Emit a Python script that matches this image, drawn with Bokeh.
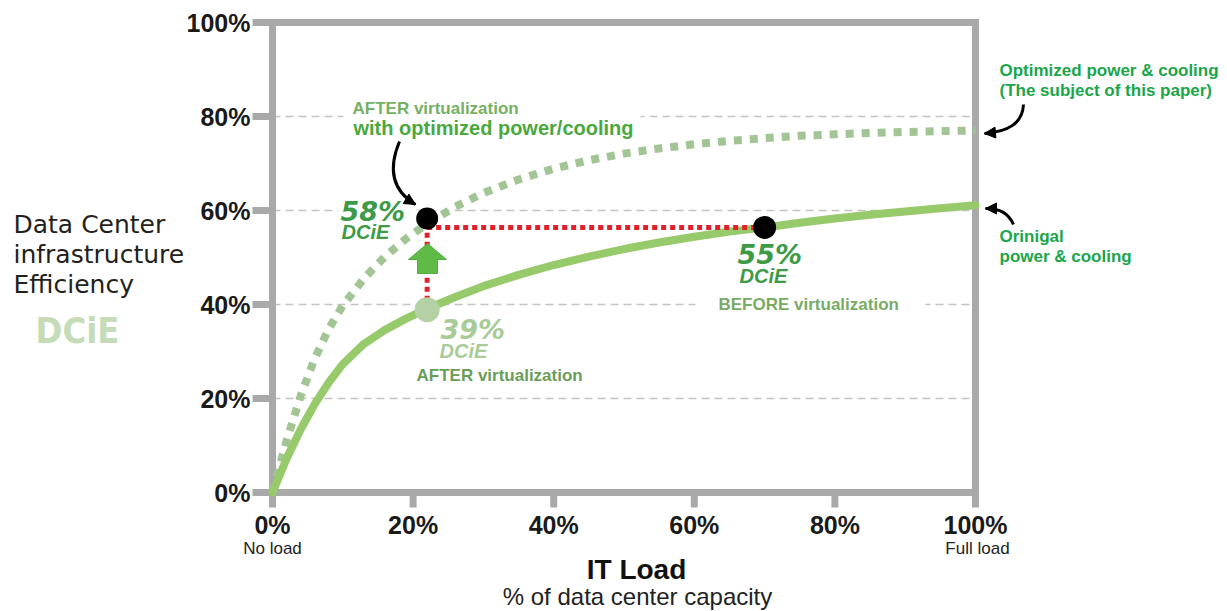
from bokeh.plotting import figure
from bokeh.models import Range1d, Label, Arrow, NormalHead
from bokeh.core.properties import value
from bokeh.embed import file_html
from bokeh.resources import INLINE

# ---------------- data ----------------
x_ticks = [0, 20, 40, 60, 80, 100]
x_tick_labels = ["0%", "20%", "40%", "60%", "80%", "100%"]
y_ticks = [0, 20, 40, 60, 80, 100]
y_tick_labels = ["0%", "20%", "40%", "60%", "80%", "100%"]
grid_levels = [20, 40, 60, 80]

# Original power & cooling (solid curve)
orig_load = [0, 2, 4, 6, 8, 10, 13, 16, 19, 22, 26, 30, 35, 40, 45, 50, 55, 60,
             65, 70, 75, 80, 85, 90, 95, 100]
orig_dcie = [0, 7.2, 13.4, 18.8, 23.4, 27.3, 31.6, 34.6, 37.0, 39.1, 41.6, 43.9, 46.3,
             48.4, 50.2, 51.8, 53.2, 54.4, 55.5, 56.4, 57.4, 58.3, 59.1, 59.8, 60.5, 61.1]

# Optimized power & cooling (dotted curve)
opt_load = [0, 2, 4, 6, 8, 10, 13, 16, 19, 22, 26, 30, 35, 40, 45, 50, 55, 60,
            65, 70, 75, 80, 85, 90, 95, 100]
opt_dcie = [0, 11.0, 20.5, 28.5, 34.8, 39.8, 45.5, 50.2, 54.0, 57.2, 60.8, 63.7, 66.6,
            68.9, 70.7, 72.1, 73.2, 74.1, 74.8, 75.4, 75.9, 76.2, 76.5, 76.7, 76.9, 77.0]

# highlighted points
before_x, before_y = [70], [56.4]            # BEFORE virtualization (55% DCiE)
after_x, after_y = [22], [38.9]              # AFTER virtualization (39% DCiE)
after_opt_x, after_opt_y = [22], [58.3]      # AFTER, optimized power/cooling (58% DCiE)

# ---------------- layout helpers (page pixel -> data) ----------------
PX0, PY0, SX, SY = 272.0, 492.0, 7.03, 4.70
def X(px):
    return (px - PX0) / SX
def Y(py):
    return (PY0 - py) / SY

W, H = 1227, 611
GRAY = "#a9a9a9"

p = figure(width=W, height=H, output_backend="svg", toolbar_location=None,
           x_range=Range1d(X(0), X(W)), y_range=Range1d(Y(H), Y(0)),
           x_axis_location=None, y_axis_location=None,
           min_border_left=0, min_border_right=0, min_border_top=0, min_border_bottom=0)
p.outline_line_color = None
p.background_fill_color = "white"
p.border_fill_color = "white"
p.grid.visible = False

# dashed grid lines
n = len(grid_levels)
p.segment(x0=[x_ticks[0]] * n, y0=grid_levels, x1=[x_ticks[-1]] * n, y1=grid_levels,
          line_color="#c4c4c4", line_width=1.6, line_dash="8 5")

# white masks behind texts that interrupt the grid
def mask(px0, py0, px1, py1):
    p.quad(left=X(px0), right=X(px1), top=Y(py0), bottom=Y(py1),
           fill_color="white", line_color=None)
mask(343, 108, 640, 124)
mask(338, 204, 417, 216)
mask(695, 297, 925, 311)

# axis box and tick marks
x0, x1, y0, y1 = x_ticks[0], x_ticks[-1], y_ticks[0], y_ticks[-1]
p.line([x0, x0, x1, x1, x0, x0], [y0, y1, y1, y0, y0, y1], line_color=GRAY,
       line_width=7, line_join="miter")
p.segment(x0=[X(252)] * len(y_ticks), y0=y_ticks, x1=[x0] * len(y_ticks), y1=y_ticks,
          line_color=GRAY, line_width=7)
p.segment(x0=x_ticks, y0=[y0] * len(x_ticks), x1=x_ticks, y1=[Y(507)] * len(x_ticks),
          line_color=GRAY, line_width=7)
p.text(x=[X(250)] * len(y_ticks), y=y_ticks, text=y_tick_labels,
       text_font=value("Liberation Sans"), text_font_style="bold", text_font_size="25px",
       text_color="#1a1a1a", text_align="right", text_baseline="middle")
p.text(x=x_ticks, y=[Y(510)] * len(x_ticks), text=x_tick_labels,
       text_font=value("Liberation Sans"), text_font_style="bold", text_font_size="25px",
       text_color="#1a1a1a", text_align="center", text_baseline="top")

# curves
p.line(opt_load, opt_dcie, line_color="#a3c596", line_width=8, line_dash="8 8")
p.line(orig_load, orig_dcie, line_color="#97ca6b", line_width=8, line_cap="round")

# red connectors
p.line([after_x[0], after_x[0]], [after_y[0], before_y[0]], line_color="#e2202a",
       line_width=5, line_dash="5 4")
p.line([after_opt_x[0], before_x[0]], [before_y[0], before_y[0]], line_color="#e2202a",
       line_width=5, line_dash="5 4")

# up arrow (block)
cx = 427
p.patch([X(cx), X(cx + 19), X(cx + 10), X(cx + 10), X(cx - 10), X(cx - 10), X(cx - 19)],
        [Y(243), Y(259), Y(259), Y(273), Y(273), Y(259), Y(259)],
        fill_color="#5fba46", line_color="#4fae3e", line_width=1)

# points
p.scatter(after_x, after_y, size=25, fill_color="#b3d1a5", line_color=None)
p.scatter(after_opt_x, after_opt_y, size=22, fill_color="black", line_color=None)
p.scatter(before_x, before_y, size=23, fill_color="black", line_color=None)

# curved black pointer arrows
def curved(p0, c0, c1, p1):
    p.bezier(x0=[X(p0[0])], y0=[Y(p0[1])], x1=[X(p1[0])], y1=[Y(p1[1])],
             cx0=[X(c0[0])], cy0=[Y(c0[1])], cx1=[X(c1[0])], cy1=[Y(c1[1])],
             line_color="black", line_width=3)
    p.add_layout(Arrow(end=NormalHead(size=11, fill_color="black", line_color="black"),
                       x_start=X(c1[0]), y_start=Y(c1[1]), x_end=X(p1[0]), y_end=Y(p1[1]),
                       line_alpha=0))
curved((399, 141), (386, 172), (395, 192), (415, 204))
curved((1023, 104), (1022, 123), (1008, 131), (984, 133))
curved((1013, 224), (1008, 213), (1000, 208), (985, 208))

# texts: py is the wanted baseline; anchor on the middle of the em box
def lab(text, px, py, size, color, font="Liberation Sans", style="bold", align="left"):
    p.add_layout(Label(x=X(px), y=Y(py - 0.35 * size), text=text, text_font=font,
                       text_font_size=f"{size}px", text_font_style=style,
                       text_color=color, text_align=align, text_baseline="middle"))

lab("Data Center", 13, 233, 25, "#231f20", font="DejaVu Sans", style="normal")
lab("infrastructure", 13, 263, 25, "#231f20", font="DejaVu Sans", style="normal")
lab("Efficiency", 13, 293, 25, "#231f20", font="DejaVu Sans", style="normal")
lab("DCiE", 35, 343, 36, "#c6dcb9", font="'DejaVu Sans Condensed', 'Liberation Sans Narrow', sans-serif")

lab("AFTER  virtualization", 352, 114, 17, "#76b062")
lab("with optimized power/cooling", 353, 134, 20, "#4aa83e")
lab("58%", 340, 220, 27, "#3d9b47", font="DejaVu Sans", style="bold italic")
lab("DCiE", 341, 238, 20, "#3d9b47", style="bold italic")
lab("39%", 440, 338, 27, "#a8cb98", font="DejaVu Sans", style="bold italic")
lab("DCiE", 439, 357, 20, "#a8cb98", style="bold italic")
lab("AFTER virtualization", 416, 381, 17, "#6a9e58")
lab("55%", 737, 263, 27, "#3d9b47", font="DejaVu Sans", style="bold italic")
lab("DCiE", 739, 282, 20, "#3d9b47", style="bold italic")
lab("BEFORE virtualization", 718, 310, 17, "#7aab66")

lab("Optimized power & cooling", 999, 76, 17, "#1aa64a")
lab("(The subject of this paper)", 999, 96, 17, "#1aa64a")
lab("Orinigal", 999, 242, 17, "#1aa64a")
lab("power & cooling", 999, 262, 17, "#1aa64a")

lab("No load", 272, 554, 17, "#222222", style="normal", align="center")
lab("Full load", 977, 554, 17, "#222222", style="normal", align="center")
lab("IT Load", 636, 579, 28, "#111111", align="center")
lab("% of data center capacity", 637, 604, 24, "#222222", style="normal", align="center")

open("out.html", "w").write(file_html(p, INLINE))
